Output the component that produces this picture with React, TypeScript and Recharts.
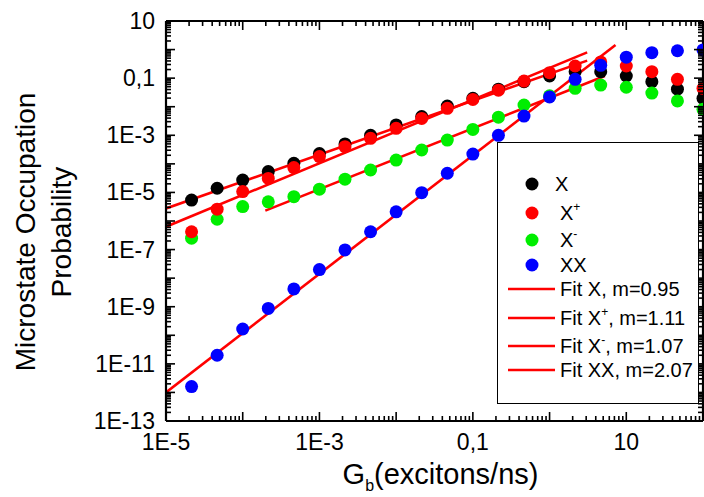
import React from 'react';
import { ComposedChart, Scatter, Line, XAxis, YAxis, Legend, Label } from 'recharts';

// Generation rate G_b (excitons/ns)
const generationRates = [
  2.154e-5, 4.642e-5, 1e-4, 2.154e-4, 4.642e-4, 1e-3, 2.154e-3, 4.642e-3, 1e-2, 2.154e-2,
  4.642e-2, 0.1, 0.2154, 0.4642, 1, 2.154, 4.642, 10, 21.54, 46.42, 100,
];
// Microstate occupation probabilities
const probX = [
  5.4e-6, 1.4e-5, 2.7e-5, 5.4e-5, 1.05e-4, 2.3e-4, 5e-4, 1e-3, 2.3e-3, 4.5e-3,
  0.0106, 0.0197, 0.041, 0.075, 0.119, 0.168, 0.168, 0.119, 0.075, 0.041, 0.0197,
];
const probXPlus = [
  4.2e-7, 2.6e-6, 1.07e-5, 3.1e-5, 7.4e-5, 1.8e-4, 4e-4, 7.8e-4, 1.75e-3, 3.9e-3,
  8.8e-3, 0.018, 0.038, 0.079, 0.155, 0.266, 0.37, 0.266, 0.168, 0.091, 0.044,
];
const probXMinus = [
  2.5e-7, 1.15e-6, 3.2e-6, 4.7e-6, 7.1e-6, 1.3e-5, 2.9e-5, 6.1e-5, 1.36e-4, 3.05e-4,
  6.8e-4, 1.6e-3, 4.3e-3, 0.0115, 0.024, 0.044, 0.057, 0.048, 0.03, 0.016, 0.0081,
];
const probXX = [
  1.6e-12, 2.0e-11, 1.66e-10, 8.7e-10, 4.2e-9, 2.0e-8, 9.7e-8, 4.2e-7, 2.1e-6, 9.8e-6,
  4.7e-5, 2.2e-4, 1e-3, 4.7e-3, 0.022, 0.091, 0.28, 0.54, 0.78, 0.91, 0.97,
];

// Power-law fits (end points)
const fitXGen = [1e-5, 3.09];
const fitXVal = [2.75e-6, 0.41];
const fitXPlusGen = [1e-5, 3.09];
const fitXPlusVal = [6.3e-7, 0.8];
const fitXMinusGen = [1.97e-4, 5.25];
const fitXMinusVal = [2.3e-6, 0.119];
const fitXXGen = [1e-5, 7.24];
const fitXXVal = [1e-12, 1.45];
const fitSlopes = ['0.95', '1.11', '1.07', '2.07'];

// Tick labels
const yTickValues = [1e-13, 1e-11, 1e-9, 1e-7, 1e-5, 1e-3, 0.1, 10];
const yTickLabels = ['1E-13', '1E-11', '1E-9', '1E-7', '1E-5', '1E-3', '0,1', '10'];
const xTickValues = [1e-5, 1e-3, 0.1, 10];
const xTickLabels = ['1E-5', '1E-3', '0,1', '10'];

const FONT = '"Liberation Sans", Arial, Helvetica, sans-serif';

const toPoints = (xs: number[], ys: number[]) => xs.map((x, i) => ({ x, y: ys[i] }));

const dataX = toPoints(generationRates, probX);
const dataXPlus = toPoints(generationRates, probXPlus);
const dataXMinus = toPoints(generationRates, probXMinus);
const dataXX = toPoints(generationRates, probXX);
const fitX = toPoints(fitXGen, fitXVal);
const fitXPlus = toPoints(fitXPlusGen, fitXPlusVal);
const fitXMinus = toPoints(fitXMinusGen, fitXMinusVal);
const fitXX = toPoints(fitXXGen, fitXXVal);

function logTicks(lo: number, hi: number) {
  const out: number[] = [];
  for (let d = lo; d < hi; d++) for (let m = 1; m < 10; m++) out.push(m * Math.pow(10, d));
  out.push(Math.pow(10, hi));
  return out;
}
const yAllTicks = logTicks(-13, 1);
const xAllTicks = logTicks(-5, 2);

const findLabel = (v: number, values: number[], labels: string[]) => {
  const lg = Math.log10(v);
  const i = values.findIndex((t) => Math.abs(Math.log10(t) - lg) < 1e-6);
  return i >= 0 ? labels[i] : null;
};

const makeTick = (side: 'left' | 'right' | 'top' | 'bottom', values: number[], labels: string[] | null) =>
  (props: any) => {
    const { x, y, payload } = props;
    const v = payload.value;
    const lg = Math.log10(v);
    const decade = Math.abs(lg - Math.round(lg)) < 1e-6;
    const len = decade ? 9 : 5;
    let line: React.ReactNode = null;
    if (side === 'left') line = <line x1={x} y1={y} x2={x + len} y2={y} />;
    if (side === 'right') line = <line x1={x} y1={y} x2={x - len} y2={y} />;
    if (side === 'top') line = <line x1={x} y1={y} x2={x} y2={y + len} />;
    if (side === 'bottom') line = <line x1={x} y1={y} x2={x} y2={y - len} />;
    const lab = labels ? findLabel(v, values, labels) : null;
    let text: React.ReactNode = null;
    if (lab && side === 'left') {
      text = (
        <text x={x - 11} y={y + 8} textAnchor="end" fontSize={23} fontFamily={FONT} fill="#000" stroke="none">
          {lab}
        </text>
      );
    }
    if (lab && side === 'bottom') {
      text = (
        <text x={x} y={y + 29} textAnchor="middle" fontSize={23} fontFamily={FONT} fill="#000" stroke="none">
          {lab}
        </text>
      );
    }
    return (
      <g>
        <g stroke="#000" strokeWidth={1.6}>{line}</g>
        {text}
      </g>
    );
  };

const YTitle = (props: any) => {
  const vb = props.viewBox || { x: 165, y: 21, width: 1, height: 400 };
  const left = vb.x + (vb.width || 0);
  const cy = vb.y + vb.height / 2 + 11;
  const x1 = left - 131;
  const x2 = left - 95;
  return (
    <g fontFamily={FONT} fontSize={28} fill="#000">
      <text x={x1} y={cy} textAnchor="middle" transform={`rotate(-90 ${x1} ${cy})`}>
        Microstate Occupation
      </text>
      <text x={x2} y={cy} textAnchor="middle" transform={`rotate(-90 ${x2} ${cy})`}>
        Probability
      </text>
    </g>
  );
};

const XTitle = (props: any) => {
  const vb = props.viewBox || { x: 166, y: 421, width: 537 };
  const cx = vb.x + vb.width / 2 + 6;
  const by = vb.y + 63;
  return (
    <text x={cx} y={by} textAnchor="middle" fontFamily={FONT} fontSize={29} fill="#000">
      G
      <tspan fontSize={16} dy={7}>b</tspan>
      <tspan fontSize={29} dy={-7}>(excitons/ns)</tspan>
    </text>
  );
};

const seriesColors: Record<string, string> = {
  X: '#000000',
  'X+': '#ff0000',
  'X-': '#00ee00',
  XX: '#0000ff',
};

const legendOrder = ['X', 'X+', 'X-', 'XX', 'Fit X', 'Fit X+', 'Fit X-', 'Fit XX'];

const renderName = (base: string) => {
  if (base.endsWith('+') || base.endsWith('-')) {
    const sign = base.endsWith('+') ? '+' : '-';
    return [
      <tspan key="b">{base.slice(0, -1)}</tspan>,
      <tspan key="s" fontSize={12} dy={-9}>{sign}</tspan>,
    ];
  }
  return [<tspan key="b">{base}</tspan>];
};

const LegendBox = (props: any) => {
  const payload: any[] = props.payload || [];
  const byName: Record<string, any> = {};
  payload.forEach((p) => {
    byName[p.value] = p;
  });
  const pointRows = [42, 71, 98, 123];
  const fitRows = [147, 176, 204, 228];
  return (
    <div
      style={{
        width: 202,
        height: 262,
        border: '1.5px solid #000',
        background: '#fff',
        boxSizing: 'border-box',
      }}
    >
      <svg width={200} height={260} style={{ position: 'absolute', left: 0, top: 0 }}>
        {legendOrder.map((name, i) => {
          const entry = byName[name];
          if (i < 4) {
            const cy = pointRows[i];
            const color = (entry && entry.color) || seriesColors[name];
            return (
              <g key={name}>
                <circle cx={35} cy={cy} r={6.5} fill={color} />
                <text x={name === 'X' ? 58 : 63} y={cy + 7} fontFamily={FONT} fontSize={20} fill="#000">
                  {renderName(name)}
                </text>
              </g>
            );
          }
          const cy = fitRows[i - 4];
          const base = name.replace('Fit ', '');
          const hasSup = base.endsWith('+') || base.endsWith('-');
          const color = (entry && entry.color) || '#ff0000';
          return (
            <g key={name}>
              <line x1={11} y1={cy} x2={58} y2={cy} stroke={color} strokeWidth={2.5} />
              <text x={63} y={cy + 7} fontFamily={FONT} fontSize={20} fill="#000">
                <tspan>Fit </tspan>
                {renderName(base)}
                <tspan dy={hasSup ? 9 : 0} fontSize={20}>{`, m=${fitSlopes[i - 4]}`}</tspan>
              </text>
            </g>
          );
        })}
      </svg>
    </div>
  );
};

const dot = (color: string) => (p: any) =>
  p.cx == null || p.cy == null ? <g /> : <circle cx={p.cx} cy={p.cy} r={6.5} fill={color} />;

const axisLineStyle = { stroke: '#000', strokeWidth: 2.2 };

export default function App() {
  return (
    <div style={{ position: 'absolute', left: 0, top: 0, width: 704, height: 497, background: '#fff', overflow: 'hidden' }}>
      <ComposedChart width={704} height={497} margin={{ top: 20, right: 0, bottom: 75, left: 165 }}>
        <XAxis
          xAxisId={0}
          dataKey="x"
          type="number"
          scale="log"
          domain={[1e-5, 100]}
          allowDataOverflow
          ticks={xAllTicks}
          interval={0}
          height={1}
          tickSize={0}
          tickMargin={0}
          tickLine={false}
          axisLine={axisLineStyle}
          tick={makeTick('bottom', xTickValues, xTickLabels)}
        >
          <Label content={XTitle} />
        </XAxis>
        <XAxis
          xAxisId="top"
          orientation="top"
          dataKey="x"
          type="number"
          scale="log"
          domain={[1e-5, 100]}
          allowDataOverflow
          ticks={xAllTicks}
          interval={0}
          height={1}
          tickSize={0}
          tickMargin={0}
          tickLine={false}
          axisLine={axisLineStyle}
          tick={makeTick('top', xTickValues, null)}
        />
        <YAxis
          yAxisId={0}
          dataKey="y"
          type="number"
          scale="log"
          domain={[1e-13, 10]}
          allowDataOverflow
          ticks={yAllTicks}
          interval={0}
          width={1}
          tickSize={0}
          tickMargin={0}
          tickLine={false}
          axisLine={axisLineStyle}
          tick={makeTick('left', yTickValues, yTickLabels)}
        >
          <Label content={YTitle} />
        </YAxis>
        <YAxis
          yAxisId="right"
          orientation="right"
          dataKey="y"
          type="number"
          scale="log"
          domain={[1e-13, 10]}
          allowDataOverflow
          ticks={yAllTicks}
          interval={0}
          width={1}
          tickSize={0}
          tickMargin={0}
          tickLine={false}
          axisLine={axisLineStyle}
          tick={makeTick('right', yTickValues, null)}
        />
        <Scatter name="X" data={dataX} fill="#000000" shape={dot('#000000')} isAnimationActive={false} legendType="circle" />
        <Scatter name="X-" data={dataXMinus} fill="#00ee00" shape={dot('#00ee00')} isAnimationActive={false} legendType="circle" />
        <Scatter name="X+" data={dataXPlus} fill="#ff0000" shape={dot('#ff0000')} isAnimationActive={false} legendType="circle" />
        <Scatter name="XX" data={dataXX} fill="#0000ff" shape={dot('#0000ff')} isAnimationActive={false} legendType="circle" />
        <Line name="Fit X" data={fitX} dataKey="y" stroke="#ff0000" strokeWidth={2.6} dot={false} isAnimationActive={false} legendType="line" />
        <Line name="Fit X+" data={fitXPlus} dataKey="y" stroke="#ff0000" strokeWidth={2.6} dot={false} isAnimationActive={false} legendType="line" />
        <Line name="Fit X-" data={fitXMinus} dataKey="y" stroke="#ff0000" strokeWidth={2.6} dot={false} isAnimationActive={false} legendType="line" />
        <Line name="Fit XX" data={fitXX} dataKey="y" stroke="#ff0000" strokeWidth={2.6} dot={false} isAnimationActive={false} legendType="line" />
        <Legend
          layout="vertical"
          align="center"
          verticalAlign="middle"
          content={LegendBox}
          wrapperStyle={{ left: 497, top: 142, width: 202, height: 262 }}
        />
      </ComposedChart>
    </div>
  );
}
